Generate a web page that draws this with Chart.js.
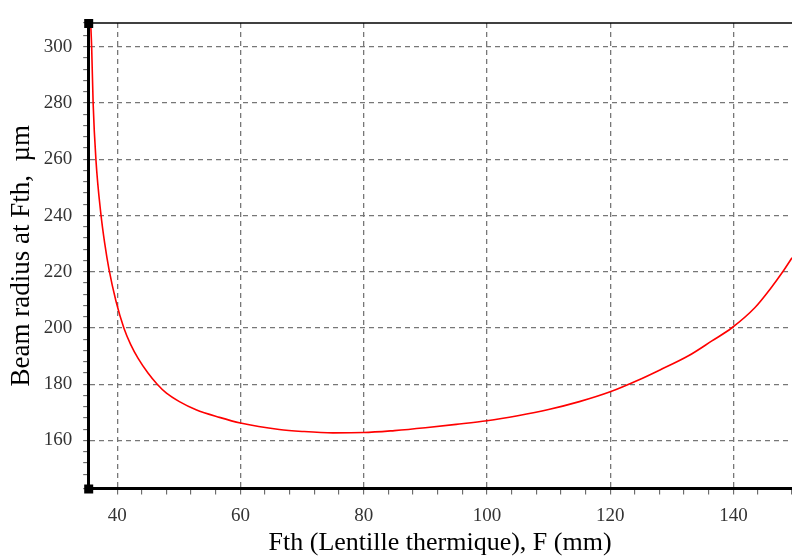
<!DOCTYPE html>
<html>
<head>
<meta charset="utf-8">
<script src="https://cdn.jsdelivr.net/npm/chart.js@4"></script>
<style>
  body { margin: 0; background: #fff; overflow: hidden; }
</style>
</head>
<body>
<canvas id="beamChart" width="803" height="557"></canvas>
<script>
// Données
const fth = [35.7, 35.86, 36.1, 36.55, 37.36, 38.0, 38.66, 39.8, 41.1, 42.2, 43.4, 45, 46.5, 48, 50.1, 52.8, 56.6, 60, 66.3, 70, 75, 80, 85, 90, 95, 100, 105, 110, 115, 120, 124.6, 128, 132.7, 136.5, 139.7, 143.5, 146, 148, 149.5];
const beamRadius = [308.5, 300, 280, 260, 240.5, 229.8, 221, 209.6, 199.9, 194.1, 189.2, 184, 180, 176.8, 173.8, 170.9, 168.2, 166.2, 163.9, 163.2, 162.7, 162.8, 163.5, 164.5, 165.7, 167, 168.8, 171, 173.8, 177.3, 181.5, 185, 190.1, 195.4, 200, 207.3, 214, 220, 225];
const xMajor = [40, 60, 80, 100, 120, 140];
const yMajor = [160, 180, 200, 220, 240, 260, 280, 300];

const points = fth.map((x, i) => ({ x: x, y: beamRadius[i] }));

function isMajor(list, v) {
    return list.some(m => Math.abs(m - v) < 1e-6);
}

// Carrés noirs aux coins et bordure supérieure
const frame = {
    id: 'frame',
    afterDraw(chart) {
        const a = chart.chartArea;
        const c = chart.ctx;
        c.save();
        c.strokeStyle = '#000';
        c.lineWidth = 1.5;
        c.beginPath();
        c.moveTo(a.left, a.top);
        c.lineTo(a.right, a.top);
        c.stroke();
        c.fillStyle = '#000';
        c.fillRect(a.left - 4, a.top - 4, 9, 9);
        c.fillRect(a.left - 4, a.bottom - 4, 9, 9);
        c.restore();
    }
};

new Chart(document.getElementById('beamChart').getContext('2d'), {
    type: 'line',
    data: {
        datasets: [{
            data: points,
            borderColor: '#ff0000',
            borderWidth: 1.6,
            pointRadius: 0,
            cubicInterpolationMode: 'monotone',
            fill: false
        }]
    },
    options: {
        responsive: false,
        animation: false,
        layout: { padding: { left: 4, right: 0, top: 23, bottom: 0 } },
        plugins: {
            legend: { display: false },
            tooltip: { enabled: false }
        },
        scales: {
            x: {
                type: 'linear',
                min: 35.3,
                max: 149.5,
                border: { color: '#000', width: 3, dash: [5, 4] },
                grid: {
                    color: ctx => isMajor(xMajor, ctx.tick.value) ? '#777' : 'rgba(0,0,0,0)',
                    tickColor: ctx => ctx.tick.value > 35.5 ? '#555' : 'rgba(0,0,0,0)',
                    lineWidth: 1.3,
                    tickLength: 6,
                    tickWidth: 1,
                    tickBorderDash: []
                },
                ticks: {
                    stepSize: 4,
                    autoSkip: false,
                    maxRotation: 0,
                    color: '#333',
                    font: { family: 'Liberation Serif', size: 19, lineHeight: 1.1 },
                    padding: 11,
                    callback: v => isMajor(xMajor, v) ? String(v) : ''
                },
                title: {
                    display: true,
                    text: 'Fth (Lentille thermique), F (mm)',
                    color: '#000',
                    font: { family: 'Liberation Serif', size: 26, lineHeight: 1.1 },
                    padding: { top: -9, bottom: 0 }
                }
            },
            y: {
                type: 'linear',
                min: 142.9,
                max: 308.5,
                border: { color: '#000', width: 3, dash: [5, 4] },
                grid: {
                    color: ctx => isMajor(yMajor, ctx.tick.value) ? '#777' : 'rgba(0,0,0,0)',
                    tickColor: '#555',
                    lineWidth: 1.3,
                    tickLength: 5,
                    tickWidth: 1,
                    tickBorderDash: []
                },
                ticks: {
                    stepSize: 4,
                    autoSkip: false,
                    color: '#333',
                    font: { family: 'Liberation Serif', size: 19 },
                    padding: 11,
                    callback: v => isMajor(yMajor, v) ? String(v) : ''
                },
                title: {
                    display: true,
                    text: 'Beam radius at Fth,  µm',
                    color: '#000',
                    font: { family: 'Liberation Serif', size: 27, lineHeight: 1.1 },
                    padding: { top: 3, bottom: -4 }
                }
            }
        }
    },
    plugins: [frame]
});
</script>
</body>
</html>
